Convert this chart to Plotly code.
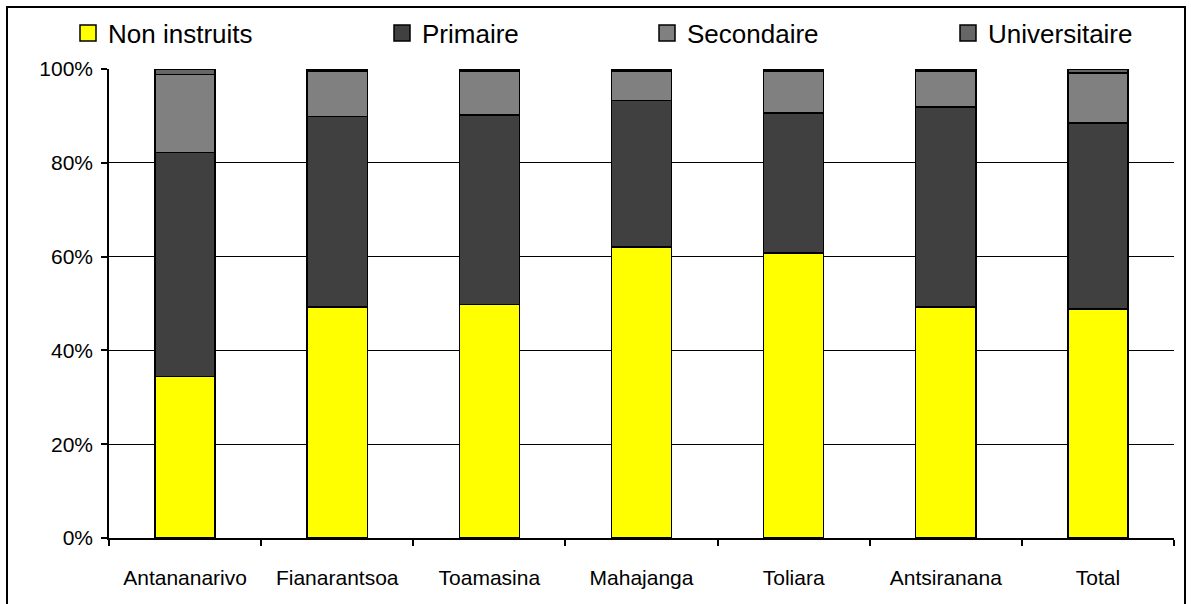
import plotly.graph_objects as go

categories = ["Antananarivo", "Fianarantsoa", "Toamasina", "Mahajanga", "Toliara", "Antsiranana", "Total"]
non_instruits = [34.4, 49.3, 49.8, 62.1, 60.8, 49.3, 48.8]
primaire = [47.8, 40.6, 40.4, 31.2, 29.8, 42.6, 39.7]
secondaire = [16.6, 9.7, 9.4, 6.3, 9.0, 7.7, 10.6]
universitaire = [1.2, 0.4, 0.4, 0.4, 0.4, 0.4, 0.9]
y_ticks = [0, 20, 40, 60, 80, 100]
y_tick_labels = ["0%", "20%", "40%", "60%", "80%", "100%"]

series = [
    ("Non instruits", non_instruits, "#FFFF00", "legend"),
    ("Primaire", primaire, "#404040", "legend2"),
    ("Secondaire", secondaire, "#808080", "legend3"),
    ("Universitaire", universitaire, "#666666", "legend4"),
]

FONT = "Liberation Sans, Arial, sans-serif"
W, H = 1191, 604
L, R, T, B = 109, 17, 69, 66
pw = W - L - R
ph = H - T - B


def px_x(p):
    return (p - L) / pw


def px_y(p):
    return (H - B - p) / ph


fig = go.Figure()
for name, vals, color, leg in series:
    fig.add_trace(go.Bar(
        x=categories, y=vals, name=name, showlegend=False,
        marker=dict(color=color, line=dict(color="black", width=1.5)),
    ))
# legend swatches
for name, vals, color, leg in series:
    fig.add_trace(go.Scatter(
        x=[None], y=[None], mode="markers", name=name, legend=leg, showlegend=True,
        marker=dict(symbol="square", size=16, color=color, line=dict(color="black", width=1.5)),
    ))

leg_common = dict(orientation="h", yanchor="middle", y=px_y(33), xanchor="left",
                  bgcolor="rgba(0,0,0,0)", font=dict(family=FONT, size=26, color="black"),
                  borderwidth=0, itemsizing="trace")

fig.update_layout(
    width=W, height=H, autosize=False,
    margin=dict(l=L, r=R, t=T, b=B, pad=0, autoexpand=False),
    paper_bgcolor="white", plot_bgcolor="white",
    barmode="stack", bargap=0.605,
    legend=dict(x=px_x(68), **leg_common),
    legend2=dict(x=px_x(382), **leg_common),
    legend3=dict(x=px_x(647), **leg_common),
    legend4=dict(x=px_x(948), **leg_common),
    xaxis=dict(
        showline=True, linecolor="black", linewidth=1.5,
        ticks="outside", tickson="boundaries", ticklen=6, tickcolor="black", tickwidth=1.5,
        tickfont=dict(family=FONT, size=21, color="black"),
        ticklabelstandoff=20,
        showgrid=False,
    ),
    yaxis=dict(
        range=[0, 100], tickmode="array", tickvals=y_ticks, ticktext=y_tick_labels,
        showline=True, linecolor="black", linewidth=1.5,
        ticks="outside", ticklen=6, tickcolor="black", tickwidth=1.5,
        tickfont=dict(family=FONT, size=21, color="black"),
        ticklabelstandoff=4,
        showgrid=True, gridcolor="black", gridwidth=1.2,
        zeroline=False,
    ),
)

fig.add_shape(type="rect", xref="paper", yref="paper",
              x0=px_x(7), x1=px_x(1185), y0=px_y(620), y1=px_y(7),
              line=dict(color="black", width=2), fillcolor="rgba(0,0,0,0)", layer="below")

fig.write_html("out.html", config={"responsive": False, "displayModeBar": False},
               post_script="document.body.style.margin='0';document.body.style.overflow='hidden';")
